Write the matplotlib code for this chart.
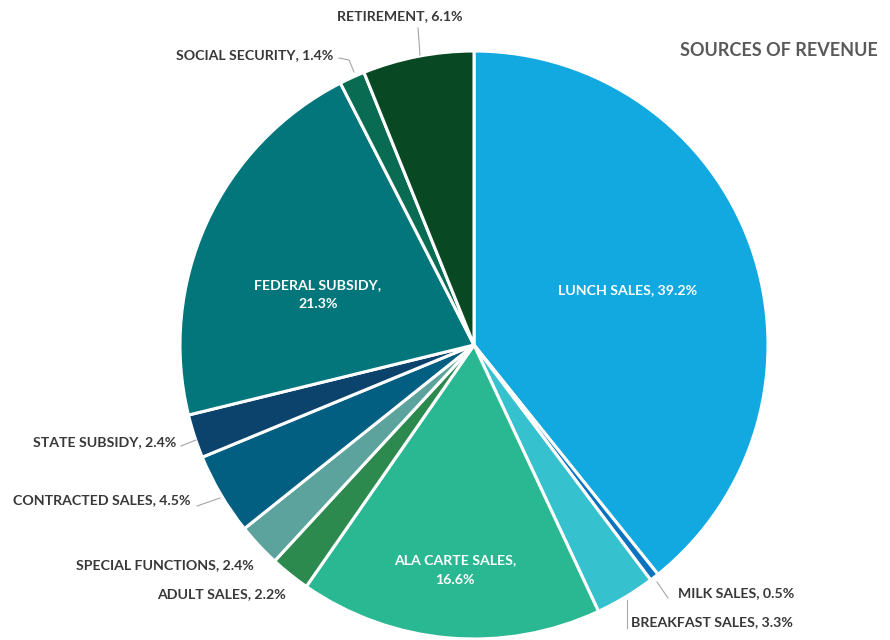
import numpy as np
import matplotlib
matplotlib.use("Agg")
import matplotlib.pyplot as plt

plt.rcParams["font.family"] = ["Lato", "DejaVu Sans"]

# Revenue shares, clockwise from 12 o'clock
categories = [
    "LUNCH SALES", "MILK SALES", "BREAKFAST SALES", "ALA CARTE SALES",
    "ADULT SALES", "SPECIAL FUNCTIONS", "CONTRACTED SALES", "STATE SUBSIDY",
    "FEDERAL SUBSIDY", "SOCIAL SECURITY", "RETIREMENT",
]
shares = [39.2, 0.5, 3.3, 16.6, 2.2, 2.4, 4.5, 2.4, 21.3, 1.4, 6.1]
colors = [
    "#12a9e1", "#0b72c0", "#35c1cd", "#2ab892", "#2d8a4e", "#5ba39c",
    "#025f82", "#0b436c", "#02767b", "#0a6b53", "#084823",
]

W, H = 890, 640
fig = plt.figure(figsize=(W / 100, H / 100), dpi=100)
ax = fig.add_axes([0, 0, 1, 1])

cx, cy, r = 474, 295, 294
wedges, _ = ax.pie(
    shares, colors=colors, startangle=90, counterclock=False,
    center=(cx, cy), radius=r, frame=True,
    wedgeprops=dict(edgecolor="white", linewidth=2.2),
)
ax.set_xlim(0, W)
ax.set_ylim(0, H)
ax.set_aspect("equal")
ax.axis("off")

dark = "#383838"
lbl = dict(fontsize=10.2, fontweight="bold", color=dark)


def text_of(i):
    return f"{categories[i]}, {shares[i]:.1f}%"


# labels inside the big wedges
for i, (x, y) in {0: (628, 350), 8: (318, 345), 3: (455, 70)}.items():
    if i == 0:
        s = text_of(i)
    else:
        s = f"{categories[i]},\n{shares[i]:.1f}%"
    ax.text(x, y, s, ha="center", va="center", color="white",
            fontsize=10.2, fontweight="bold", linespacing=1.7)

# outside labels: (text x, text y, leader points)
outside = {
    10: (400, 624, [(418, 612), (420, 585)]),
    9: (255, 585, [(339, 582), (349, 580), (354, 568)]),
    7: (105, 198, [(181, 194), (196, 200)]),
    6: (102, 140, [(197, 134), (220, 142)]),
    5: (165, 75, None),
    4: (221, 46, None),
    1: (736, 47, [(668, 42), (657, 58)]),
    2: (712, 18, [(627, 12), (627, 40)]),
}
for i, (x, y, pts) in outside.items():
    ax.text(x, y, text_of(i), ha="center", va="center", **lbl)
    if pts:
        xs, ys = zip(*pts)
        ax.plot(xs, ys, color="#a6a6a6", linewidth=0.8)

ax.text(779, 590, "SOURCES OF REVENUE", ha="center", va="center",
        fontsize=13, fontweight="bold", color="#595959")

fig.savefig("out.png", dpi=100, facecolor="white")
